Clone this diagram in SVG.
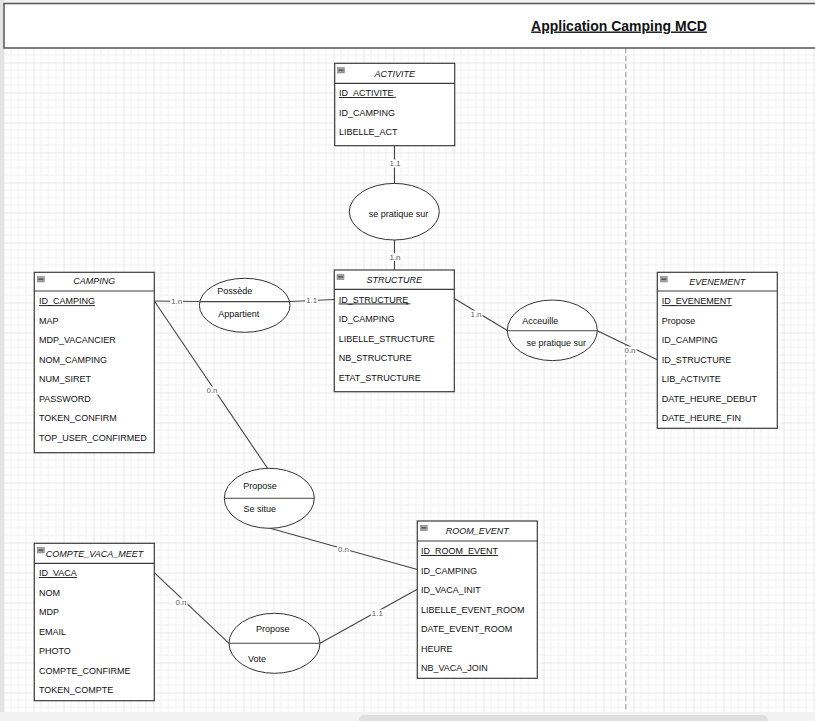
<svg xmlns="http://www.w3.org/2000/svg" width="815" height="721" viewBox="0 0 815 721">
<style>
.t{font-family:"Liberation Sans",Arial,sans-serif;font-size:9px;fill:#111}
.ti{font-style:italic;text-anchor:middle}
.m{text-anchor:middle}
.u{text-decoration:underline}
.box{fill:#fff;stroke:#3c3c3c;stroke-width:1.2}
.sep{stroke:#3c3c3c;stroke-width:1.2}
.ico{fill:#a3a3a3;stroke:#7a7a7a;stroke-width:.5}
.icl{stroke:#333;stroke-width:1}
.ell{fill:#fff;stroke:#333;stroke-width:1}
.con{fill:none;stroke:#444;stroke-width:1.1}
.ul{stroke:#111;stroke-width:.8}
.lb{fill:#fff}
.lbl{font-family:"Liberation Sans",Arial,sans-serif;font-size:8px;fill:#5a5a6a;text-anchor:middle}
</style>
<defs>
<pattern id="grid" x="3.5" y="2.5" width="30" height="30" patternUnits="userSpaceOnUse">
<path d="M7.5 0V30M15 0V30M22.5 0V30M0 7.5H30M0 15H30M0 22.5H30" stroke="#f1f1f1" stroke-width="1"/>
<path d="M0 0V30M0 0H30" stroke="#d4d4d4" stroke-width="1"/>
</pattern>
</defs>
<rect x="0" y="0" width="815" height="721" fill="#f2f2f2"/>
<rect x="0" y="0" width="4" height="712" fill="#e4e4e4"/>
<rect x="4" y="48" width="811" height="664" fill="#fff"/>
<rect x="4" y="48" width="811" height="664" fill="url(#grid)"/>
<line x1="625.7" y1="48" x2="625.7" y2="712" stroke="#b0b0b0" stroke-width="1.4" stroke-dasharray="5 3"/>
<rect x="359" y="715" width="409" height="10" rx="5" fill="#e0e0e0"/>

<g id="header">
<rect x="4" y="3.5" width="820" height="44.5" fill="#fff" stroke="#555" stroke-width="1.5"/>
<text x="619" y="30.5" class="t m u" style="font-size:14px;font-weight:bold">Application Camping MCD</text>
</g>

<g id="connectors">
<line class="con" x1="394.5" y1="146" x2="394.5" y2="183.3"/>
<line class="con" x1="394.5" y1="240" x2="394.5" y2="270"/>
<line class="con" x1="154.3" y1="301" x2="199.3" y2="301.5"/>
<line class="con" x1="290" y1="301.5" x2="334.3" y2="299.5"/>
<line class="con" x1="154.3" y1="301" x2="267.5" y2="468.3"/>
<line class="con" x1="268.3" y1="527.7" x2="417.3" y2="569.5"/>
<line class="con" x1="454.3" y1="298.5" x2="507.3" y2="330.5"/>
<line class="con" x1="597.3" y1="330.7" x2="657.3" y2="359.7"/>
<line class="con" x1="154.3" y1="572.7" x2="229" y2="643.3"/>
<line class="con" x1="320" y1="643.3" x2="417.3" y2="589.3"/>
<rect class="lb" x="388.5" y="159.5" width="13" height="8"/>
<text class="lbl" x="395" y="166.3">1.1</text>
<rect class="lb" x="388.5" y="253" width="13" height="8"/>
<text class="lbl" x="395" y="259.8">1.n</text>
<rect class="lb" x="170" y="297" width="13" height="8"/>
<text class="lbl" x="176.7" y="303.8">1.n</text>
<rect class="lb" x="305" y="296" width="13" height="8"/>
<text class="lbl" x="311.7" y="302.8">1.1</text>
<rect class="lb" x="205.5" y="386.5" width="13" height="8"/>
<text class="lbl" x="212" y="393.3">0.n</text>
<rect class="lb" x="337" y="545.5" width="13" height="8"/>
<text class="lbl" x="343.5" y="552.3">0.n</text>
<rect class="lb" x="469.5" y="310.5" width="13" height="8"/>
<text class="lbl" x="476" y="317.3">1.n</text>
<rect class="lb" x="623.5" y="346.5" width="13" height="8"/>
<text class="lbl" x="630" y="353.3">0.n</text>
<rect class="lb" x="174.5" y="598.5" width="13" height="8"/>
<text class="lbl" x="181" y="605.3">0.n</text>
<rect class="lb" x="370.8" y="609.5" width="13" height="8"/>
<text class="lbl" x="377.3" y="616.3">1.1</text>
</g>

<g id="ACTIVITE">
<rect class="box" x="334.7" y="63.3" width="120" height="82.4"/>
<line class="sep" x1="334.7" y1="83.3" x2="454.7" y2="83.3"/>
<rect class="ico" x="337.5" y="67.5" width="7" height="5.5"/>
<line class="icl" x1="338.5" y1="70.2" x2="343.5" y2="70.2"/>
<text class="t ti" x="394.7" y="76.5">ACTIVITE</text>
<text class="t u" x="339" y="96">ID_ACTIVITE</text>
<line class="ul" x1="393" y1="97.3" x2="396" y2="97.3"/>
<text class="t" x="339" y="115.5">ID_CAMPING</text>
<text class="t" x="339" y="135">LIBELLE_ACT</text>
</g>

<g id="se-pratique-sur-1">
<ellipse class="ell" cx="394.3" cy="211.7" rx="45" ry="28.3"/>
<text class="t m" x="398.5" y="217">se pratique sur</text>
</g>

<g id="STRUCTURE">
<rect class="box" x="334.3" y="270" width="120" height="121.7"/>
<line class="sep" x1="334.3" y1="289.3" x2="454.3" y2="289.3"/>
<rect class="ico" x="337" y="274.2" width="7" height="5.5"/>
<line class="icl" x1="338" y1="276.9" x2="343" y2="276.9"/>
<text class="t ti" x="394.3" y="283">STRUCTURE</text>
<text class="t u" x="338.7" y="302.5">ID_STRUCTURE</text>
<line class="ul" x1="406" y1="303.8" x2="410.5" y2="303.8"/>
<text class="t" x="338.7" y="322">ID_CAMPING</text>
<text class="t" x="338.7" y="341.5">LIBELLE_STRUCTURE</text>
<text class="t" x="338.7" y="361">NB_STRUCTURE</text>
<text class="t" x="338.7" y="380.5">ETAT_STRUCTURE</text>
</g>

<g id="CAMPING">
<rect class="box" x="34.3" y="272.3" width="120" height="180.4"/>
<line class="sep" x1="34.3" y1="291" x2="154.3" y2="291"/>
<rect class="ico" x="37.3" y="276.5" width="7" height="5.5"/>
<line class="icl" x1="38.3" y1="279.2" x2="43.3" y2="279.2"/>
<text class="t ti" x="94.3" y="284.2">CAMPING</text>
<text class="t u" x="39" y="304.2">ID_CAMPING</text>
<text class="t" x="39" y="323.7">MAP</text>
<text class="t" x="39" y="343.2">MDP_VACANCIER</text>
<text class="t" x="39" y="362.7">NOM_CAMPING</text>
<text class="t" x="39" y="382.2">NUM_SIRET</text>
<text class="t" x="39" y="401.7">PASSWORD</text>
<text class="t" x="39" y="421.2">TOKEN_CONFIRM</text>
<text class="t" x="39" y="440.7">TOP_USER_CONFIRMED</text>
</g>

<g id="possede-appartient">
<ellipse class="ell" cx="244.7" cy="305.3" rx="45.3" ry="27"/>
<line class="con" x1="199.4" y1="301.6" x2="290" y2="301.6"/>
<text class="t m" x="234.7" y="294">Possède</text>
<text class="t m" x="238.8" y="317">Appartient</text>
</g>

<g id="propose-se-situe">
<ellipse class="ell" cx="269.3" cy="498.3" rx="45" ry="30"/>
<line class="con" x1="224.3" y1="498.3" x2="314.3" y2="498.3"/>
<text class="t m" x="260" y="489.2">Propose</text>
<text class="t m" x="259.7" y="512">Se situe</text>
</g>

<g id="acceuille">
<ellipse class="ell" cx="552.3" cy="330.3" rx="45" ry="30.3"/>
<line class="con" x1="507.3" y1="330.7" x2="597.3" y2="330.7"/>
<text class="t m" x="540.3" y="324">Acceuille</text>
<text class="t m" x="556.2" y="345.5">se pratique sur</text>
</g>

<g id="EVENEMENT">
<rect class="box" x="657.3" y="272.3" width="120" height="156"/>
<line class="sep" x1="657.3" y1="291" x2="777.3" y2="291"/>
<rect class="ico" x="660.3" y="276.5" width="7" height="5.5"/>
<line class="icl" x1="661.3" y1="279.2" x2="666.3" y2="279.2"/>
<text class="t ti" x="717.3" y="285">EVENEMENT</text>
<text class="t u" x="661.7" y="304.2">ID_EVENEMENT</text>
<text class="t" x="661.7" y="323.7">Propose</text>
<text class="t" x="661.7" y="343.2">ID_CAMPING</text>
<text class="t" x="661.7" y="362.7">ID_STRUCTURE</text>
<text class="t" x="661.7" y="382.2">LIB_ACTIVITE</text>
<text class="t" x="661.7" y="401.7">DATE_HEURE_DEBUT</text>
<text class="t" x="661.7" y="421.2">DATE_HEURE_FIN</text>
</g>

<g id="ROOM_EVENT">
<rect class="box" x="417.3" y="521" width="120" height="157.3"/>
<line class="sep" x1="417.3" y1="541" x2="537.3" y2="541"/>
<rect class="ico" x="420.3" y="525.2" width="7" height="5.5"/>
<line class="icl" x1="421.3" y1="527.9" x2="426.3" y2="527.9"/>
<text class="t ti" x="477.3" y="534">ROOM_EVENT</text>
<text class="t u" x="421" y="554">ID_ROOM_EVENT</text>
<text class="t" x="421" y="573.5">ID_CAMPING</text>
<text class="t" x="421" y="593">ID_VACA_INIT</text>
<text class="t" x="421" y="612.5">LIBELLE_EVENT_ROOM</text>
<text class="t" x="421" y="632">DATE_EVENT_ROOM</text>
<text class="t" x="421" y="651.5">HEURE</text>
<text class="t" x="421" y="671">NB_VACA_JOIN</text>
</g>

<g id="COMPTE_VACA_MEET">
<rect class="box" x="34.3" y="543.3" width="120" height="157.4"/>
<line class="sep" x1="34.3" y1="563.3" x2="154.3" y2="563.3"/>
<rect class="ico" x="37.3" y="547.5" width="7" height="5.5"/>
<line class="icl" x1="38.3" y1="550.2" x2="43.3" y2="550.2"/>
<text class="t ti" x="94.5" y="556.5">COMPTE_VACA_MEET</text>
<text class="t u" x="39" y="576">ID_VACA</text>
<text class="t" x="39" y="595.5">NOM</text>
<text class="t" x="39" y="615">MDP</text>
<text class="t" x="39" y="634.5">EMAIL</text>
<text class="t" x="39" y="654">PHOTO</text>
<text class="t" x="39" y="673.5">COMPTE_CONFIRME</text>
<text class="t" x="39" y="693">TOKEN_COMPTE</text>
</g>

<g id="propose-vote">
<ellipse class="ell" cx="274.5" cy="643.3" rx="45.5" ry="30"/>
<line class="con" x1="229" y1="643.3" x2="320" y2="643.3"/>
<text class="t m" x="272.7" y="632.2">Propose</text>
<text class="t m" x="257" y="662.2">Vote</text>
</g>
</svg>
